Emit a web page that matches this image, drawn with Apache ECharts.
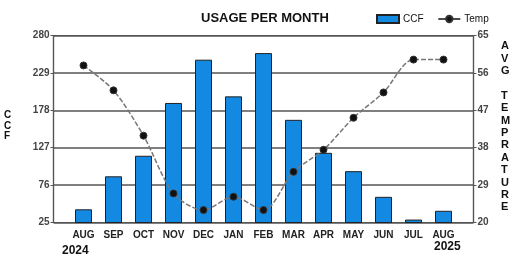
<!DOCTYPE html>
<html>
<head>
<meta charset="utf-8">
<script src="https://cdn.jsdelivr.net/npm/echarts@6/dist/echarts.min.js"></script>
<style>
  html, body { margin: 0; padding: 0; background: #fff; }
  #chart { width: 516px; height: 258px; }
</style>
</head>
<body>
<div id="chart"></div>
<script>
// months shown on the x axis (Aug 2024 .. Aug 2025)
var months = ['AUG', 'SEP', 'OCT', 'NOV', 'DEC', 'JAN', 'FEB', 'MAR', 'APR', 'MAY', 'JUN', 'JUL', 'AUG'];
// usage in CCF per month
var ccf = [43, 88, 116, 188, 247, 197, 256, 165, 120, 95, 60, 29, 41];
// average temperature per month
var temp = [57.8, 51.8, 40.9, 27, 23, 26.2, 23, 32.2, 37.5, 45.2, 51.3, 59.2, 59.2];
var ccfTicks = [25, 280, 51];   // min, max, step
var tempTicks = [20, 65, 9];

var font = '"Liberation Sans", Arial, sans-serif';

// pad an empty slot on both ends so bars sit away from the axes
var cats = [''].concat(months, ['']);
var pad = function (arr) { return [null].concat(arr, [null]); };

var chart = echarts.init(document.getElementById('chart'));
var option = {
  animation: false,
  textStyle: { fontFamily: font },
  title: {
    text: 'USAGE PER MONTH',
    left: 196,
    top: 7,
    textStyle: { fontSize: 13, fontWeight: 'bold', color: '#111', fontFamily: font }
  },
  legend: {
    left: 371,
    top: 9,
    itemWidth: 22,
    itemHeight: 8,
    itemGap: 14,
    textStyle: { fontSize: 10, color: '#111', fontFamily: font, padding: [0, 0, 0, -1] },
    data: [
      { name: 'CCF', icon: 'rect' },
      { name: 'Temp', lineStyle: { type: 'solid', color: '#111', width: 1.5 }, itemStyle: { color: '#111' } }
    ]
  },
  grid: { left: 53.5, right: 42.5, top: 35.5, bottom: 35.5, show: true, borderColor: '#555', borderWidth: 1.2 },
  xAxis: {
    type: 'category',
    data: cats,
    boundaryGap: false,
    axisLine: { show: false },
    axisTick: { show: false },
    splitLine: { show: false },
    axisLabel: {
      interval: 0, margin: 8,
      fontSize: 10, fontWeight: 'bold', color: '#222', fontFamily: font
    }
  },
  yAxis: [
    {
      type: 'value',
      min: ccfTicks[0], max: ccfTicks[1], interval: ccfTicks[2],
      axisLine: { show: true, lineStyle: { color: '#555', width: 1.2 } },
      axisTick: { show: true, length: 3, lineStyle: { color: '#555' } },
      splitLine: { lineStyle: { color: '#555', width: 1.5 } },
      axisLabel: { margin: 4, fontSize: 10, fontWeight: 'bold', color: '#444', fontFamily: font }
    },
    {
      type: 'value',
      min: tempTicks[0], max: tempTicks[1], interval: tempTicks[2],
      axisLine: { show: true, lineStyle: { color: '#555', width: 1.2 } },
      axisTick: { show: true, length: 3, lineStyle: { color: '#555' } },
      splitLine: { show: false },
      axisLabel: { margin: 4, fontSize: 10, fontWeight: 'bold', color: '#444', fontFamily: font }
    }
  ],
  graphic: [
    { type: 'text', left: 4, top: 110, style: { text: 'C\nC\nF', font: 'bold 10px ' + font, fill: '#111', lineHeight: 10.5, align: 'center' } },
    { type: 'text', left: 501, top: 40, style: { text: 'A\nV\nG\n\nT\nE\nM\nP\nR\nA\nT\nU\nR\nE', font: 'bold 11px ' + font, fill: '#111', lineHeight: 12.4, align: 'center' } },
    { type: 'text', left: 62, top: 245, style: { text: '2024', font: 'bold 12px ' + font, fill: '#111' } },
    { type: 'text', left: 434, top: 241, style: { text: '2025', font: 'bold 12px ' + font, fill: '#111' } }
  ],
  series: [
    {
      name: 'CCF',
      type: 'bar',
      yAxisIndex: 0,
      barWidth: 17,
      data: pad(ccf),
      itemStyle: { color: '#1489e2', borderColor: '#222', borderWidth: 1 }
    },
    {
      name: 'Temp',
      type: 'line',
      yAxisIndex: 1,
      smooth: 0.3,
      data: pad(temp),
      symbol: 'circle',
      symbolSize: 7,
      itemStyle: { color: '#111', borderColor: '#333', borderWidth: 1 },
      lineStyle: { color: '#777', width: 1.5, type: [5, 2] },
      z: 5
    }
  ]
};
chart.setOption(option);
</script>
</body>
</html>
